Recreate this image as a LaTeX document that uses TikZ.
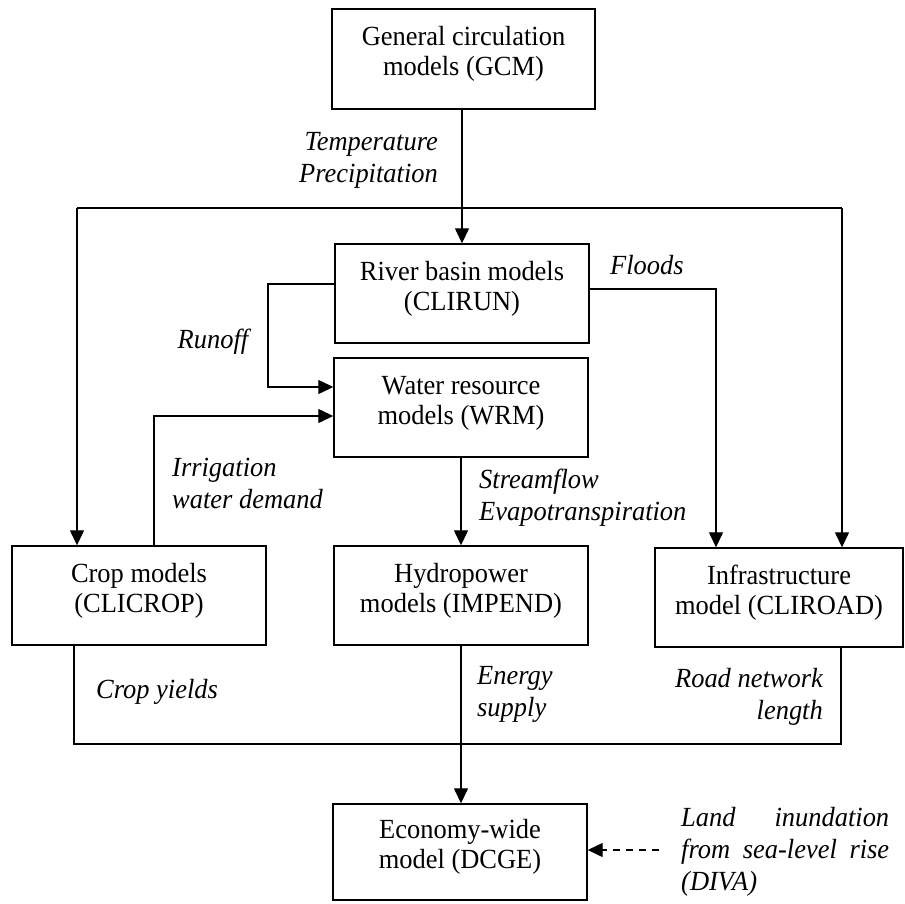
\documentclass[tikz,border=0pt]{standalone}
\usepackage{fontspec}
\setmainfont[FakeStretch=0.955]{Liberation Serif}
\usetikzlibrary{arrows.meta}
\newcommand\boxlines[1]{\begin{tabular}{@{}c@{}}#1\\[9pt]\end{tabular}}
\begin{document}
\begin{tikzpicture}[x=1pt,y=-1pt,
  every node/.style={font=\fontsize{27.7}{30}\selectfont},
  model/.style={draw,line width=1.4pt,inner sep=0pt,minimum width=254pt,minimum height=99pt},
  lbl/.style={font=\fontsize{27.7}{32}\selectfont\itshape,inner sep=0pt},
  conn/.style={line width=1.3pt},
  arr/.style={conn,-{Triangle[length=15pt,width=14pt]}},
  darr/.style={arr,dash pattern=on 7pt off 6pt}]
\useasboundingbox (0,0) rectangle (905,903);

% model boxes
\node[model,minimum width=263pt,minimum height=100pt] (gcm) at (463.5,59) {\boxlines{General circulation\\models (GCM)}};
\node[model] (rb) at (462,293.5) {\boxlines{River basin models\\(CLIRUN)}};
\node[model] (wrm) at (461,407.5) {\boxlines{Water resource\\models (WRM)}};
\node[model] (crop) at (139,595.5) {\boxlines{Crop models\\(CLICROP)}};
\node[model] (hydro) at (461,595.5) {\boxlines{Hydropower\\models (IMPEND)}};
\node[model,minimum width=248pt] (infra) at (779,597.5) {\boxlines{Infrastructure\\model (CLIROAD)}};
\node[model,minimum height=96pt] (dcge) at (460,852) {\boxlines{Economy-wide\\model (DCGE)}};

% helper coordinates
\coordinate (tl) at (77,208);
\coordinate (tr) at (842,208);
\coordinate (ro1) at (268,284);
\coordinate (ro2) at (268,387);
\coordinate (ir) at (154,416);
\coordinate (fl) at (716,289);
\coordinate (bl) at (74,744);
\coordinate (br) at (841,744);
\coordinate (dd) at (659,850);

% connectors
\draw[arr] (gcm.south -| rb.north) -- (rb.north);
\draw[conn] (tl) -- (tr);
\draw[arr] (tl) -- (crop.north -| tl);
\draw[arr] (tr) -- (infra.north -| tr);
\draw[arr] (rb.west |- ro1) -- (ro1) -- (ro2) -- (wrm.west |- ro2);
\draw[arr] (crop.north -| ir) -- (ir) -- (wrm.west |- ir);
\draw[arr] (rb.east |- fl) -- (fl) -- (infra.north -| fl);
\draw[arr] (wrm.south) -- (hydro.north);
\draw[conn] (crop.south -| bl) -- (bl) -- (br) -- (infra.south -| br);
\draw[arr] (hydro.south) -- (dcge.north -| hydro.south);
\draw[darr] (dd) -- (dcge.east |- dd);

% labels
\node[lbl,anchor=east,align=right] (tp) at (438,160) {Temperature\\Precipitation};
\node[lbl,anchor=west] (fld) at (610,265) {Floods};
\node[lbl] (rof) at (213,342) {Runoff};
\node[lbl,anchor=west,align=left] (irr) at (172,483.5) {Irrigation\\water demand};
\node[lbl,anchor=west,align=left] (sf) at (479,497.5) {Streamflow\\Evapotranspiration};
\node[lbl,anchor=west] (cy) at (96,692) {Crop yields};
\node[lbl,anchor=west,align=left] (es) at (477,694) {Energy\\supply};
\node[lbl,anchor=east,align=right] (rn) at (823,697) {Road network\\length};
\node[lbl,text width=208pt,align=justify,anchor=west] (li) at (681,852) {Land inundation\linebreak from sea-level rise\linebreak (DIVA)};
\end{tikzpicture}
\end{document}
